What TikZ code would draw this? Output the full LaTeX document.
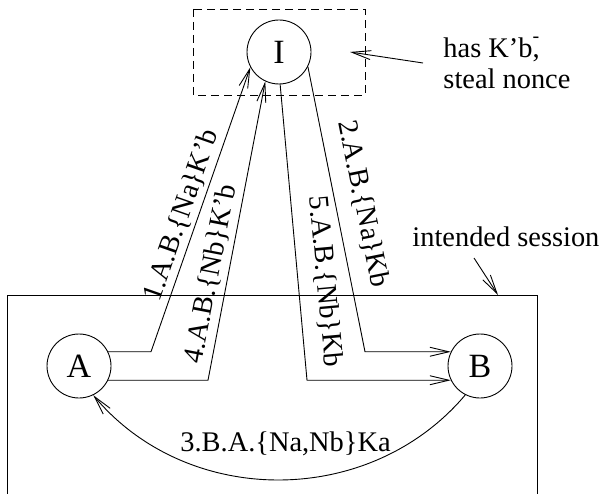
\documentclass[tikz,border=0pt]{standalone}
\usepackage{fontspec}
\setmainfont{Liberation Serif}
\usetikzlibrary{arrows.meta}
\begin{document}
\begin{tikzpicture}[x=1pt,y=-1pt,
  every node/.style={font=\fontsize{28.4}{31}\selectfont,inner sep=0pt},
  line width=0.9pt,
  arr/.style={-{Straight Barb[length=19pt,width=9pt]}},
  agent/.style={circle,draw,minimum size=64pt,inner sep=0pt,font=\fontsize{34}{34}\selectfont},
  msg/.style={sloped,inner sep=0pt},
]
\useasboundingbox (0,0) rectangle (602,494);

% region controlled by the intruder
\draw[dash pattern=on 8pt off 5pt] (193,9) rectangle (365,95);

% principals
\node[agent] (I) at (279,52) {I};
\node[agent] (A) at (79,366) {A};
\node[agent] (B) at (480,366) {B};

% frame of the intended session (open at the bottom)
\coordinate (sessTL) at (7,295);
\coordinate (sessTR) at (537,295);
\draw (7,494) -- (sessTL) -- (sessTR) -- (537,494);

% bends of the message arrows
\coordinate (k1) at (151,0);
\coordinate (k4) at (208,0);
\coordinate (k2) at (365,0);
\coordinate (k5) at (307,0);

% messages A -> I
\draw[arr] (A.26) -- (A.26 -| k1)
  -- node[msg,pos=0.46,above=4pt] {1.A.B.\{Na\}K'b} (I.208);
\draw[arr] (A.-26) -- (A.-26 -| k4)
  -- node[msg,pos=0.345,above=5pt] {4.A.B.\{Nb\}K'b} (I.245);

% messages I -> B
\draw[arr] (I.333)
  -- node[msg,pos=0.5,above=15pt] {2.A.B.\{Na\}Kb} (B.154 -| k2) -- (B.154);
\draw[arr] (I.272)
  -- node[msg,pos=0.675,above=15pt] {5.A.B.\{Nb\}Kb} (B.206 -| k5) -- (B.206);

% reply B -> A
\draw[arr] (B.-117) .. controls (370,508) and (188,508) ..
  node[pos=0.5,anchor=base,xshift=6.5pt,yshift=28pt] {3.B.A.\{Na,Nb\}Ka} (A.-64);

% annotations
\node[anchor=base west] (note1) at (443,58)
  {has K'b\rlap{\raisebox{15pt}{\fontsize{20}{20}\selectfont -}},};
\node[anchor=base west] (note2) at (443,89) {steal nonce};
\coordinate (noteTail) at (423,63);
\coordinate (noteTip) at (350,52);
\draw[arr] (noteTail) -- (noteTip);

\node[anchor=base west] (sess) at (412,247) {intended session};
\coordinate (sessTail) at (474,258);
\coordinate (sessTip) at (498,295);
\draw[arr] (sessTail) -- (sessTip);
\end{tikzpicture}
\end{document}
